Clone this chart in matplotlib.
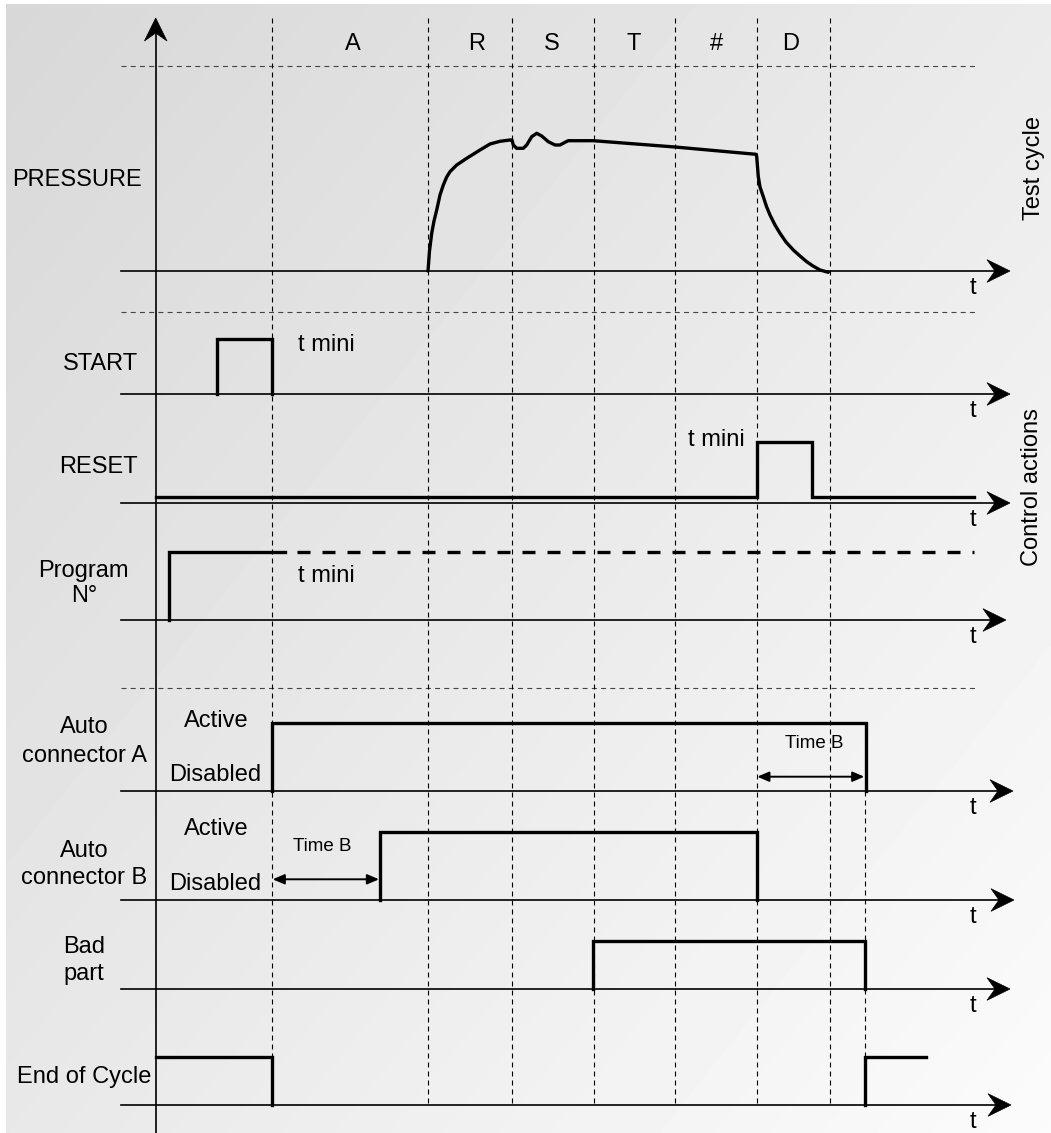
import numpy as np
import matplotlib.pyplot as plt
from matplotlib.patches import Polygon

plt.rcParams['font.family'] = ['Liberation Sans', 'DejaVu Sans']

# time axis (pixel-like units), phase boundaries and labels
phase_t = [272, 428, 512, 594, 675, 757, 830]
phase_lab = ['A', 'R', 'S', 'T', '#', 'D']
phase_lab_t = [353, 477, 552, 634, 716, 791]

# baselines of the 8 rows and where their arrows end
rows = ['PRESSURE', 'START', 'RESET', 'Program', 'AutoA', 'AutoB', 'Bad', 'EoC']
base_y = [271, 394, 503, 620, 791, 900, 989, 1105]
arrow_end = [1010, 1010, 1010, 1006, 1013, 1014, 1010, 1011]
sep_y = [66, 312, 688]

# pressure curve: time / height above baseline
pressure_t = [428, 429.5, 431.7, 434, 436.7, 440, 443.3, 446.7, 450, 456.7, 466.7,
              480, 490, 500, 510,
              512, 513.3, 516.7, 523.3, 526.7, 531.7, 536.7, 541.7, 548.3, 555,
              560, 565, 568.3, 593.3, 675, 756,
              756.7, 758.3, 760, 763.3, 766.5, 770, 775, 780, 786, 793.3, 800,
              806.7, 813, 820, 828.3]
pressure_h = [0, 20, 37.7, 50, 61, 76, 86, 94, 99.3, 106, 112.7,
              121, 127, 129.7, 131,
              131, 126, 122.7, 122.7, 126, 134.3, 137.7, 135, 129.3, 126,
              126, 128.7, 130.3, 130.3, 124, 116.7,
              114.3, 94.3, 84, 74.3, 64.5, 56, 46, 37.7, 29, 21, 15,
              9.3, 5, 1, -1.3]

# digital signals: (times, levels above baseline)
start_t = [217, 217, 272, 272]
start_v = [0, 55, 55, 0]
reset_t = [156, 757, 757, 812, 812, 974]
reset_v = [6.5, 6.5, 61, 61, 6.5, 6.5]
prog_t = [169, 169, 285]
prog_v = [0, 68.3, 68.3]
prog_dash_t = [297, 974]
autoA_t = [272, 272, 865.5, 865.5]
autoA_v = [0, 68.5, 68.5, 0]
autoB_t = [380, 380, 757, 757]
autoB_v = [0, 68.3, 68.3, 0]
bad_t = [593.3, 593.3, 865, 865]
bad_v = [0, 48, 48, 0]
eoc1_t = [156, 272, 272]
eoc1_v = [47.7, 47.7, 0]
eoc2_t = [865, 865, 926]
eoc2_v = [0, 47.7, 47.7]

W, H = 1051, 1133
fig = plt.figure(figsize=(W / 100, H / 100), dpi=100)
ax = fig.add_axes([0, 0, 1, 1])
ax.set_xlim(0, W)
ax.set_ylim(H, 0)
ax.axis('off')

# gradient background
gx = np.linspace(0, 1, 300)
gy = np.linspace(0, 1, 300)
grad = 0.845 + 0.075 * gx[None, :] + 0.065 * gy[:, None]
ax.imshow(grad, cmap='gray', vmin=0, vmax=1, extent=(6, W, H, 4),
          aspect='auto', zorder=0, interpolation='bilinear')

LW_AX = 1.2
LW_SIG = 2.4
FS = 17


def arrow_head(x, y, direction='right', L=23, w=11.3, notch=8):
    if direction == 'right':
        pts = [(x, y), (x - L, y - w), (x - L + notch, y), (x - L, y + w)]
    else:  # up
        pts = [(x, y), (x - w, y + L), (x, y + L - notch), (x + w, y + L)]
    ax.add_patch(Polygon(pts, closed=True, fc='black', ec='black', lw=0.5, zorder=5))


# vertical axis
ax.plot([155.7, 155.7], [H, 30], color='black', lw=LW_AX, zorder=4)
arrow_head(155.7, 18, 'up')

# horizontal axes
for y, xe in zip(base_y, arrow_end):
    ax.plot([121, xe - 10], [y, y], color='black', lw=LW_AX, zorder=4)
    arrow_head(xe, y)
    ax.text(973, y + 23, 't', fontsize=FS, ha='center', va='baseline')

# separators
for y in sep_y:
    ax.plot([121, 978], [y, y], color='#444444', lw=0.8,
            linestyle=(0, (4.5, 3.8)), zorder=2)

# vertical phase lines
for t in phase_t:
    ax.plot([t, t], [18, 1105], color='black', lw=0.8,
            linestyle=(0, (4.5, 3.6)), zorder=2)
ax.plot([865, 865], [791, 1105], color='black', lw=0.8,
        linestyle=(0, (4.5, 3.6)), zorder=2)

for lab, t in zip(phase_lab, phase_lab_t):
    ax.text(t, 50, lab, fontsize=FS, ha='center', va='baseline')

# pressure
ax.plot(pressure_t, [base_y[0] - h for h in pressure_h], color='black',
        lw=LW_SIG, solid_joinstyle='round', solid_capstyle='round', zorder=6)


def sig(ts, vs, row, **kw):
    b = base_y[rows.index(row)]
    ax.plot(ts, [b - v for v in vs], color='black', lw=LW_SIG,
            solid_joinstyle='miter', zorder=6, **kw)


sig(start_t, start_v, 'START')
sig(reset_t, reset_v, 'RESET')
sig(prog_t, prog_v, 'Program')
sig(prog_dash_t, [68.3, 68.3], 'Program', linestyle=(0, (3.9, 3.6)))
sig(autoA_t, autoA_v, 'AutoA')
sig(autoB_t, autoB_v, 'AutoB')
sig(bad_t, bad_v, 'Bad')
sig(eoc1_t, eoc1_v, 'EoC')
sig(eoc2_t, eoc2_v, 'EoC')

# Time B arrows
for x0, x1, y in [(757.3, 864.3, 776.7), (272.7, 379, 879.3)]:
    ax.annotate('', xy=(x1, y), xytext=(x0, y),
                arrowprops=dict(arrowstyle='<|-|>,head_length=0.7,head_width=0.3',
                                color='black', lw=1.4, shrinkA=0, shrinkB=0),
                zorder=7)
ax.text(814, 748.5, 'Time B', fontsize=13.5, ha='center', va='baseline')
ax.text(322.5, 851, 'Time B', fontsize=13.5, ha='center', va='baseline')

# left labels (center x, visual center y)
labels = [('PRESSURE', 77.5, 177.7), ('START', 100.7, 361.7), ('RESET', 98.7, 464.3),
          ('Program', 83.7, 568.3), ('N°', 84, 593.3),
          ('Auto', 84, 725), ('connector A', 84, 753.3),
          ('Auto', 84, 848.3), ('connector B', 84, 876),
          ('Bad', 84, 945), ('part', 84, 971.7), ('End of Cycle', 84, 1075),
          ('Active', 216.7, 718.3), ('Disabled', 215.5, 772.7),
          ('Active', 216.7, 826.7), ('Disabled', 215.5, 881.7)]
for s, x, y in labels:
    ax.text(x, y + 8.3, s, fontsize=FS, ha='center', va='baseline')

for x, y in [(297.7, 342.7), (687.7, 437.7), (297.7, 574)]:
    ax.text(x, y + 8.3, 't mini', fontsize=FS, ha='left', va='baseline')

ax.text(1034, 168, 'Test cycle', fontsize=FS, rotation=90, ha='center', va='center')
ax.text(1032, 487, 'Control actions', fontsize=FS, rotation=90, ha='center', va='center')

fig.savefig('out.png', dpi=100)
